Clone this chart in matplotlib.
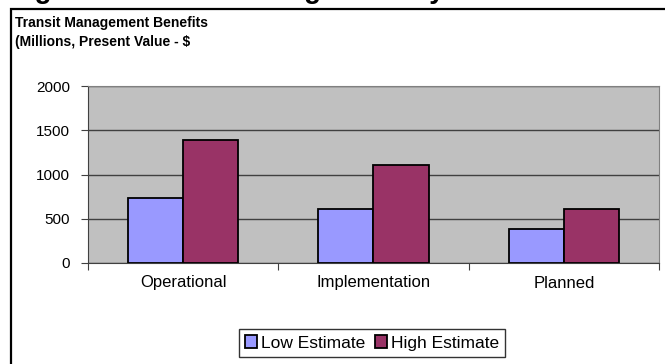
import matplotlib.pyplot as plt
from matplotlib.patches import Rectangle

categories = ["Operational", "Implementation", "Planned"]
low_estimate = [735, 608, 385]
high_estimate = [1385, 1102, 605]
series_names = ["Low Estimate", "High Estimate"]
y_ticks = [0, 500, 1000, 1500, 2000]

plt.rcParams["font.family"] = ["Liberation Sans", "DejaVu Sans"]

W, H = 665, 364
fig = plt.figure(figsize=(W / 100, H / 100), dpi=100)

# outer chart frame (only left and top edges visible in the crop)
fig.patches.append(Rectangle((11 / W, -0.1), 1.2, 1 - 9 / H + 0.1, transform=fig.transFigure,
                             fill=False, edgecolor="black", linewidth=1.6))

# cropped figure caption above the chart, only its lower edge shows
fig.text(10 / W, 1 + 1.5 / H, "Figure 4: Transit Management System Benefits",
         fontsize=20, fontweight="bold", ha="left", va="baseline")

fig.text(15 / W, 1 - 23 / H, "Transit Management Benefits", fontsize=10,
         fontweight="bold", ha="left", va="center")
fig.text(15 / W, 1 - 42 / H, "(Millions, Present Value - $", fontsize=10,
         fontweight="bold", ha="left", va="center")

ax = fig.add_axes([88 / W, 1 - 263 / H, 571 / W, 177 / H])
ax.set_facecolor("#C0C0C0")

x = list(range(len(categories)))
w = 0.29
b1 = ax.bar([i - w / 2 for i in x], low_estimate, width=w, color="#9999FF",
            edgecolor="black", linewidth=1.3, label=series_names[0], zorder=3)
b2 = ax.bar([i + w / 2 for i in x], high_estimate, width=w, color="#993366",
            edgecolor="black", linewidth=1.3, label=series_names[1], zorder=3)

ax.set_xlim(-0.5, len(categories) - 0.5)
ax.set_ylim(0, 2000)
ax.set_yticks(y_ticks)
ax.set_yticklabels([str(t) for t in y_ticks], fontsize=11)
ax.yaxis.grid(True, color="#404040", linewidth=1, zorder=1)
ax.set_axisbelow(True)

ax.set_xticks([i - 0.5 for i in range(len(categories) + 1)])
ax.set_xticklabels([])
ax.set_xticks(x, minor=True)
ax.set_xticklabels(categories, minor=True, fontsize=12)
ax.tick_params(axis="x", which="major", length=5, color="#404040", direction="out")
ax.tick_params(axis="x", which="minor", length=0, pad=9)
ax.tick_params(axis="y", length=5, color="#404040", pad=8)

for side in ["top", "right"]:
    ax.spines[side].set_color("#808080")
ax.spines["bottom"].set_color("#404040")
ax.spines["left"].set_color("#404040")

leg = fig.legend(handles=[b1, b2], loc="center", bbox_to_anchor=(372 / W, 1 - 343 / H),
                 ncol=2, fontsize=12.5, frameon=True, fancybox=False,
                 handlelength=0.7, handleheight=0.7, handletextpad=0.2,
                 columnspacing=0.6, borderpad=0.35, borderaxespad=0)
leg.get_frame().set_edgecolor("black")
leg.get_frame().set_linewidth(1)

fig.savefig("out.png", dpi=100)
